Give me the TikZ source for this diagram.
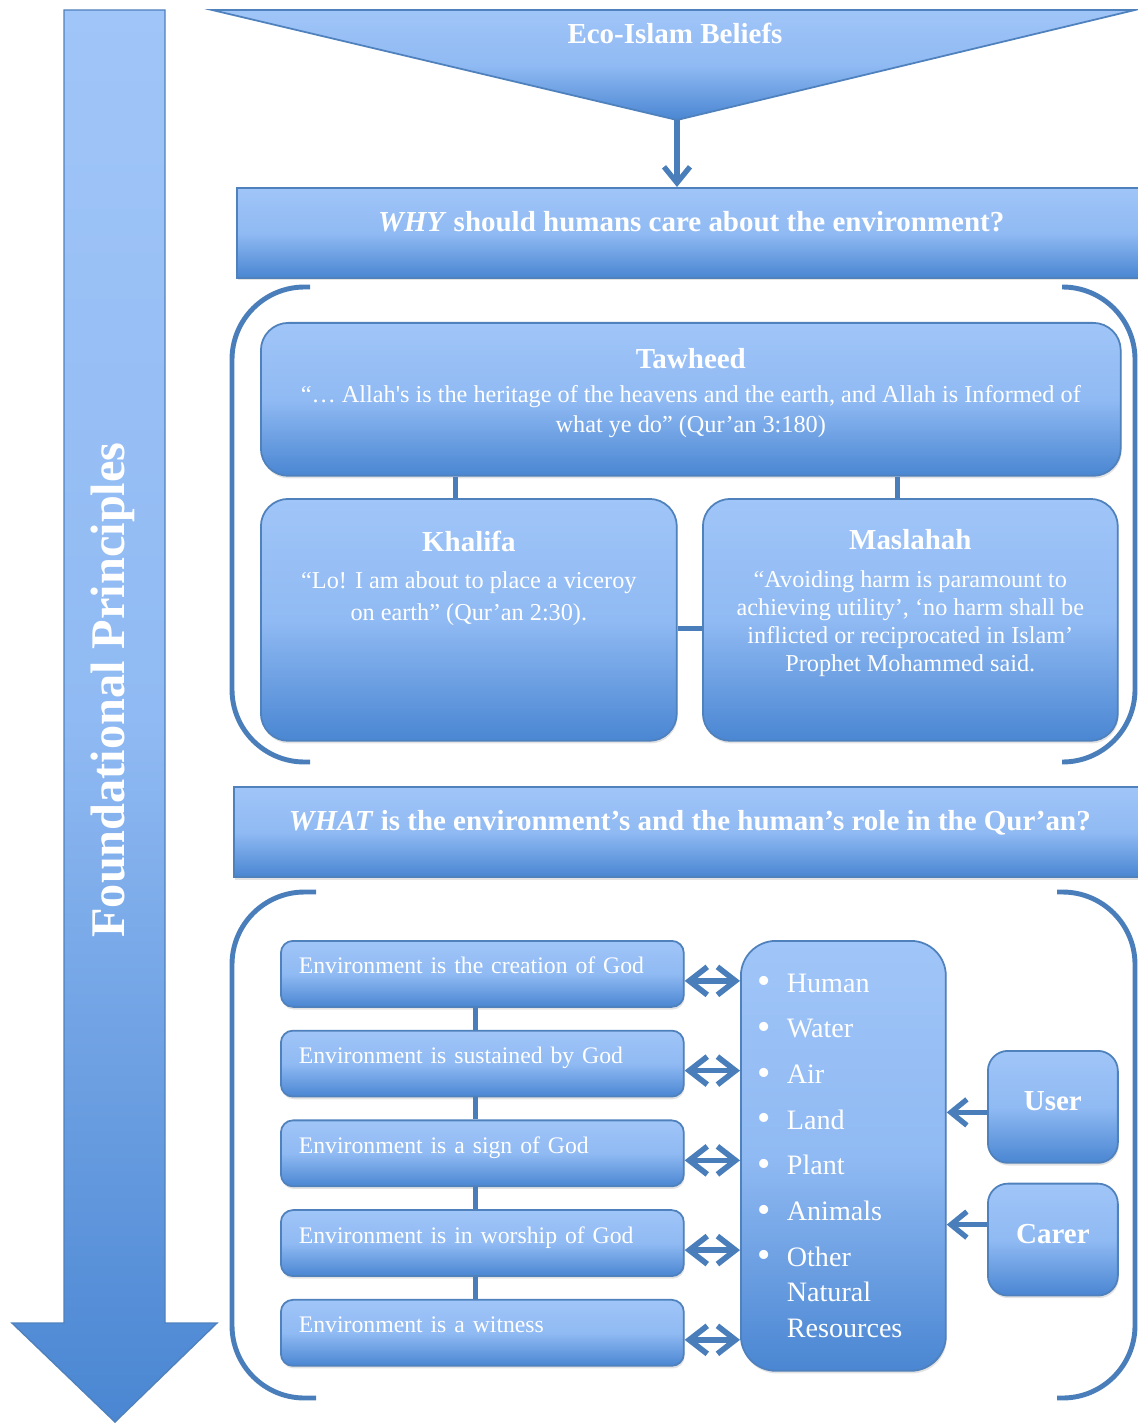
\documentclass[tikz,border=0pt]{standalone}
\usepackage{fontspec}
\setmainfont{Liberation Serif}
\usetikzlibrary{positioning,arrows.meta,shadows}
\definecolor{boxTop}{HTML}{A0C5F8}
\definecolor{boxMid}{HTML}{90BAF3}
\definecolor{boxBot}{HTML}{4A86D2}
\definecolor{boxLine}{HTML}{4F81BD}
\definecolor{linkBlue}{HTML}{4A7EBB}
\newcommand\nitem[1]{\makebox[0.58cm][l]{\raisebox{-1pt}{\scalebox{1.35}{\textbullet}}}#1}

\begin{document}
\begin{tikzpicture}[
x=0.02cm,y=-0.02cm,
panel/.style={
  draw=boxLine,
  line width=1pt,
  top color=boxTop,
  bottom color=boxBot,
  middle color=boxMid,
  drop shadow={opacity=0.22,shadow xshift=0.5pt,shadow yshift=-1.5pt},
  text=white,
  anchor=north west
},
question/.style={
  panel,
  minimum height=1.8cm,
  text height=11pt,
  text depth=12.5pt,
  font=\fontsize{16.5}{19}\selectfont\bfseries
},
principle/.style={
  panel,
  rounded corners=0.55cm
},
envbox/.style={
  panel,
  rounded corners=0.24cm,
  minimum width=8.06cm,
  minimum height=1.32cm,
  text width=7.34cm,
  inner xsep=0.36cm,
  text height=7pt,
  text depth=7pt,
  align=left,
  font=\fontsize{13.5}{16}\selectfont
},
rolebox/.style={
  panel,
  rounded corners=0.4cm,
  minimum width=2.6cm,
  minimum height=2.24cm,
  text height=11pt,
  text depth=7pt,
  font=\fontsize{16.5}{19}\selectfont\bfseries
},
quote/.style={
  text=white,
  inner sep=0pt,
  align=center
},
heading/.style={
  text=white,
  font=\fontsize{16.5}{19}\selectfont\bfseries
},
link/.style={draw=linkBlue,line width=2.8pt},
bracket/.style={draw=linkBlue,line width=2.8pt,rounded corners=1.45cm},
biarrow/.style={
  draw=linkBlue,
  line width=3.2pt,
  {Straight Barb[length=0.36cm,width=0.56cm]}-{Straight Barb[length=0.36cm,width=0.56cm]}
},
toarrow/.style={
  draw=linkBlue,
  line width=3pt,
  -{Straight Barb[length=0.32cm,width=0.52cm]}
},
node distance=0.44cm
]
\useasboundingbox (0,0) rectangle (1137,1425);

% left arrow
\path[draw=boxLine,line width=0.8pt,top color=boxTop,bottom color=boxBot,middle color=boxMid]
  (64,10) -- (165,10) -- (165,1323) -- (217,1323) -- (115,1422) -- (12,1323) -- (64,1323) -- cycle;
\node[rotate=90,text=white,font=\fontsize{27.5}{30}\selectfont\bfseries] (foundation) at (113,690)
  {Foundational Principles};

% beliefs funnel
\path[draw=boxLine,line width=1pt,top color=boxTop,bottom color=boxBot,middle color=boxMid]
  (212,10) -- (1135,10) -- (677,120) -- cycle;
\coordinate (apex) at (677,120);
\node[heading] (beliefs) at (675,33) {Eco-Islam Beliefs};

\node[question,minimum width=18.18cm] (why) at (236,187)
  {\textit{WHY} should humans care about the environment?};
\draw[toarrow] (apex) -- (apex |- why.north);

\draw[bracket] (310,287) -- (232,287) -- (232,762) -- (310,762);
\draw[bracket] (1062,287) -- (1135,287) -- (1135,762) -- (1062,762);

\node[principle,minimum width=17.2cm,minimum height=3.06cm] (tawheed) at (260,322) {};
\node[principle,minimum width=8.32cm,minimum height=4.84cm] (khalifa) at (260,498) {};
\node[principle,minimum width=8.3cm,minimum height=4.84cm] (maslahah) at (702,498) {};

\node[quote,font=\fontsize{13.8}{17}\selectfont,below=0.52cm of tawheed.north] (tawheedText)
  {{\fontsize{16.5}{19}\selectfont\bfseries Tawheed}\\[2.3pt]
   “… Allah\textquotesingle s is the heritage of the heavens and the earth, and Allah is Informed of\\
   what ye do” (Qur’an 3:180)};
\node[quote,font=\fontsize{13.8}{18}\selectfont,below=0.66cm of khalifa.north] (khalifaText)
  {{\fontsize{16.5}{19}\selectfont\bfseries Khalifa}\\[3pt]
   “Lo! I am about to place a viceroy\\
   on earth” (Qur’an 2:30).};
\node[quote,font=\fontsize{13.8}{16}\selectfont,below=0.62cm of maslahah.north] (maslahahText)
  {{\fontsize{16.5}{19}\selectfont\bfseries Maslahah}\\[5.5pt]
   “Avoiding harm is paramount to\\
   achieving utility’, ‘no harm shall be\\
   inflicted or reciprocated in Islam’\\
   Prophet Mohammed said.};

\draw[link] ([xshift=-0.26cm]khalifa.north) -- ([xshift=-0.26cm]khalifa.north |- tawheed.south);
\draw[link] ([xshift=-0.25cm]maslahah.north) -- ([xshift=-0.25cm]maslahah.north |- tawheed.south);
\draw[link] ([yshift=-0.18cm]khalifa.east) -- ([yshift=-0.18cm]maslahah.west);

\node[question,minimum width=18.24cm] (what) at (233,786)
  {\textit{WHAT} is the environment’s and the human’s role in the Qur’an?};

\draw[bracket] (316,892) -- (232,892) -- (232,1398) -- (316,1398);
\draw[bracket] (1057,892) -- (1135,892) -- (1135,1398) -- (1057,1398);

\node[envbox] (creation) at (280,940) {Environment is the creation of God};
\node[envbox,below=of creation] (sustained) {Environment is sustained by God};
\node[envbox,below=of sustained] (sign) {Environment is a sign of God};
\node[envbox,below=of sign] (worship) {Environment is in worship of God};
\node[envbox,below=of worship] (witness) {Environment is a witness};

\node[panel,rounded corners=0.7cm,minimum width=4.1cm,minimum height=8.6cm,
  text width=3.42cm,inner xsep=0.34cm,align=left,font=\fontsize{16}{20.4}\selectfont] (nature) at (740,940)
  {\nitem{Human}\\[5.6pt]
   \nitem{Water}\\[5.6pt]
   \nitem{Air}\\[5.6pt]
   \nitem{Land}\\[5.6pt]
   \nitem{Plant}\\[5.6pt]
   \nitem{Animals}\\[5.6pt]
   \nitem{Other}\\
   \hspace*{0.58cm}Natural\\
   \hspace*{0.58cm}Resources};

\node[rolebox] (user) at (987,1050) {User};
\node[rolebox,below=0.38cm of user] (carer) {Carer};

\foreach \a/\b in {creation/sustained,sustained/sign,sign/worship,worship/witness}
  \draw[link] ([xshift=-0.13cm]\a.south) -- ([xshift=-0.13cm]\b.north);
\foreach \env in {creation,sustained,sign,worship,witness} {
  \coordinate (\env Tip) at ([yshift=-0.14cm]\env.east);
  \draw[biarrow] (\env Tip) -- (\env Tip -| nature.west);
}
\coordinate (userTip) at ([yshift=-0.11cm]user.west);
\coordinate (carerTip) at ([yshift=0.3cm]carer.west);
\draw[toarrow] (userTip) -- (userTip -| nature.east);
\draw[toarrow] (carerTip) -- (carerTip -| nature.east);
\end{tikzpicture}
\end{document}
